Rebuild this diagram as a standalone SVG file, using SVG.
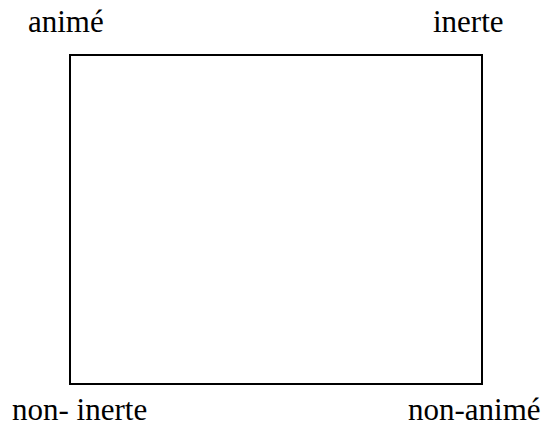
<svg xmlns="http://www.w3.org/2000/svg" width="547" height="426" viewBox="0 0 547 426">
<style>
.lbl{font-family:"Liberation Serif","Times New Roman",serif;font-size:31px;fill:#000}
.box{fill:#fff;stroke:#000;stroke-width:2}
</style>
<rect width="547" height="426" fill="#fff"/>
<g id="square"><rect class="box" x="70" y="55" width="412" height="329"/></g>
<g id="connectors"></g>
<g id="anime"><text class="lbl" x="28" y="32">animé</text></g>
<g id="inerte"><text class="lbl" x="433" y="32">inerte</text></g>
<g id="non-inerte"><text class="lbl" x="12" y="420">non- inerte</text></g>
<g id="non-anime"><text class="lbl" x="408" y="420">non-animé</text></g>
</svg>
